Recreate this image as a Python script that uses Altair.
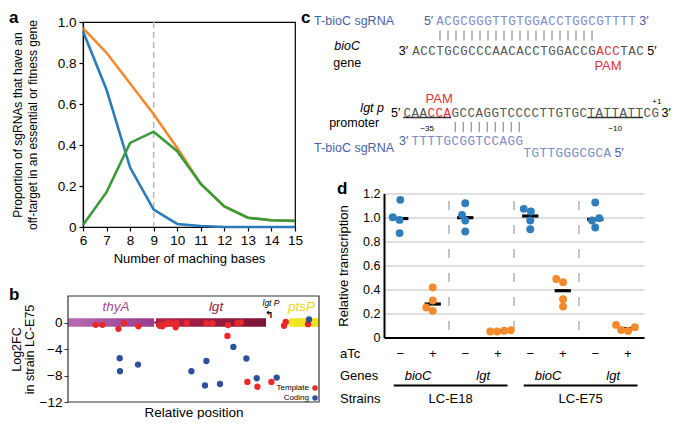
import altair as alt
import pandas as pd
import numpy as np

FONT = "Liberation Sans"
MONO = "Liberation Mono"

panel_letters = ["a", "b", "c", "d"]

# ================= panel a data =================
matching_bases = [6, 7, 8, 9, 10, 11, 12, 13, 14, 15]
series_orange = [0.97, 0.85, 0.70, 0.55, 0.385, 0.21, 0.10, 0.045, 0.033, 0.03]
series_blue = [0.955, 0.67, 0.29, 0.085, 0.015, 0.005, 0.0, 0.0, 0.0, 0.0]
series_green = [0.01, 0.17, 0.41, 0.465, 0.37, 0.21, 0.10, 0.045, 0.033, 0.03]
cutoff_bases = [9]
a_yticks = [0, 0.2, 0.4, 0.6, 0.8, 1.0]

# ================= panel b data =================
template_pos = [27.7, 34.4, 50.4, 56.0, 70.4, 91.7, 94.4, 97.0, 99.4, 102.7, 107.7, 108.4, 118.7,
                138.4, 144.4, 160.0, 169.4, 172.7, 159.4, 179.4, 189.4, 203.4, 216.0, 217.7, 240.0]
template_lfc = [-0.35, -0.35, -0.96, -0.1, -0.58, -0.49, -0.58, -0.25, -0.1, -0.1, -0.72, -0.1, -0.1,
                -0.1, -0.1, -0.39, -0.1, 0.0, -2.02, -8.97, -9.7, -8.97, -0.49, 0.09, -0.25]
coding_pos = [51.7, 52.0, 70.0, 123.4, 138.4, 137.0, 152.0, 165.4, 178.4, 188.7, 208.7, 241.0]
coding_lfc = [-5.4, -7.36, -6.35, -7.36, -5.81, -9.5, -9.28, -3.69, -5.43, -8.41, -8.31, 0.45]
gene_names = ["thyA", "lgt", "ptsP"]
gene_start = [0, 88, 224]
gene_end = [86, 198, 251]
promoter_label = ["lgt P"]
b_domain = [0, 251]
b_yticks = [0, -4, -8, -12]
legend_labels = ["Template", "Coding"]

# ================= panel c data =================
bioc_sgrna = "ACGCGGGTTGTGGACCTGGCGTTTT"
bioc_gene = "ACCTGCGCCCAACACCTGGACCGACCTAC"
lgt_promoter = "CAACCAGCCAGGTCCCCTTGTGCTATTATTCG"
pam_gene = (23, 26)
pam_promoter = (3, 6)
promoter_boxes = [(0, 6, "\u221235"), (23, 30, "\u221210")]
sgrna_label = "T-bioC sgRNA"

# ================= panel d data =================
d_strains = ["LC-E18", "LC-E75"]
d_genes = ["bioC", "lgt", "bioC", "lgt"]
d_atc = ["\u2212", "+", "\u2212", "+", "\u2212", "+", "\u2212", "+"]
d_values = [
    [1.0025, 1.147, 0.98, 0.87],
    [0.417, 0.308, 0.25, 0.222],
    [1.119, 1.022, 0.975, 0.883],
    [0.05, 0.05, 0.056, 0.06],
    [1.072, 1.05, 0.975, 0.9025],
    [0.488, 0.461, 0.319, 0.258],
    [1.125, 0.994, 0.975, 0.917],
    [0.105, 0.063, 0.055, 0.086],
]
d_jitter = [
    [-0.23, 0.0, -0.02, -0.02],
    [0.0, 0.0, -0.2, 0.0],
    [0.0, -0.1, 0.0, 0.0],
    [-0.23, -0.02, 0.2, 0.4],
    [-0.2, 0.02, 0.0, 0.0],
    [-0.2, 0.01, 0.01, 0.01],
    [0.0, 0.12, -0.1, 0.0],
    [-0.36, -0.2, 0.01, 0.22],
]
d_row_labels = ["aTc", "Genes", "Strains"]
d_yticks = [0, 0.2, 0.4, 0.6, 0.8, 1.0, 1.2]


def ax(**kw):
    base = dict(labelFont=FONT, titleFont=FONT, labelColor="black", titleColor="black",
                titleFontWeight="normal", domainColor="black", tickColor="black", labelFlush=False)
    base.update(kw)
    return alt.Axis(**base)


def letter(ch, dx, dy):
    return alt.Chart(pd.DataFrame({"t": [ch]})).mark_text(
        font=FONT, fontWeight="bold", fontSize=17, align="left", baseline="top", color="black"
    ).encode(text="t:N", x=alt.value(dx), y=alt.value(dy))


# ================= panel a =================
A_W, A_H = 212, 205
A_COLORS = {"orange": "#f5892e", "blue": "#2b7bba", "green": "#3a9b3c"}
a_long = pd.DataFrame({
    "n": matching_bases * 3,
    "value": series_orange + series_blue + series_green,
    "series": ["orange"] * len(matching_bases) + ["blue"] * len(matching_bases) + ["green"] * len(matching_bases),
})
xa = alt.X("n:Q", scale=alt.Scale(domain=[6, 15], nice=False, zero=False),
           axis=ax(values=matching_bases, title="Number of maching bases", grid=False, tickSize=4,
                   tickWidth=1.2, domainWidth=1.2, labelFontSize=13.5, titleFontSize=13,
                   labelPadding=2, titlePadding=6))
ya = alt.Y("value:Q", scale=alt.Scale(domain=[0, 1], nice=False, zero=False),
           axis=ax(values=a_yticks, labelExpr="datum.value == 0 ? '0' : format(datum.value, '.1f')",
                   title=["Proportion of sgRNAs that have an", "off-target in an essential or fitness gene"],
                   titleFontSize=12, titleLineHeight=15, grid=False, tickSize=4, tickWidth=1.2,
                   domainWidth=1.2, labelFontSize=13.5, labelPadding=3, titlePadding=18))

a_layers = [
    alt.Chart(pd.DataFrame({"n": cutoff_bases})).mark_rule(
        color="#b8b8b8", strokeDash=[6, 4], strokeWidth=1.5).encode(x=xa)
]
for s in ["orange", "blue", "green"]:
    a_layers.append(
        alt.Chart(a_long).transform_filter(alt.datum.series == s)
        .mark_line(color=A_COLORS[s], strokeWidth=2.6).encode(x=xa, y=ya)
    )
a_layers.append(letter(panel_letters[0], -74, -12))
chart_a = alt.layer(*a_layers).properties(
    width=A_W, height=A_H, view=alt.ViewBackground(stroke="black", strokeWidth=1.2))

# ================= panel b =================
B_SHIFT = 15
B_W, B_H = 236, 106
BAR_HALF = 0.65


def xb(field):
    return alt.X(field, scale=alt.Scale(domain=b_domain, range=[-B_SHIFT, B_W], nice=False, zero=False),
                 axis=ax(title="Relative position", labels=False, ticks=False, domain=False, grid=False,
                         titleFontSize=13.5, titlePadding=3))


def yb(field):
    return alt.Y(field, scale=alt.Scale(domain=[-12, 4], nice=False, zero=False),
                 axis=ax(values=b_yticks, title=["Log2FC", "in strain LC-E75"], titleFontSize=12.5,
                         titleLineHeight=13, grid=False, domain=False, tickSize=4, tickColor="#333",
                         labelFontSize=13.5, labelPadding=2, titlePadding=3, offset=B_SHIFT))


genes_df = pd.DataFrame({"gene": gene_names, "start": gene_start, "end": gene_end})
genes_df["lo"] = -BAR_HALF
genes_df["hi"] = BAR_HALF
genes_df["mid"] = (genes_df["start"] + genes_df["end"]) / 2
GENE_GRAD = {"thyA": ("#b86cb3", "#983b8f"), "lgt": ("#b3234c", "#7a1535"), "ptsP": ("#f3e424", "#f0df1c")}
GENE_TEXT = {"thyA": "#a0479c", "lgt": "#8c1d40", "ptsP": "#ecd820"}
GENE_NUDGE = {"thyA": 5, "lgt": 5, "ptsP": -4}

b_layers = []
for g in gene_names:
    c0, c1 = GENE_GRAD[g]
    b_layers.append(
        alt.Chart(genes_df).transform_filter(alt.datum.gene == g).mark_rect(
            color=alt.Gradient(gradient="linear", x1=0, x2=1, y1=0, y2=0,
                               stops=[alt.GradientStop(color=c0, offset=0),
                                      alt.GradientStop(color=c1, offset=1)])
        ).encode(x=xb("start:Q"), x2="end:Q", y=yb("lo:Q"), y2="hi:Q")
    )
b_layers.append(
    alt.Chart(genes_df).transform_filter(alt.datum.gene == "lgt").transform_calculate(z="0")
    .mark_point(shape="triangle-left", filled=True, size=45, color="#b3234c", opacity=1)
    .encode(x=xb("start:Q"), y=yb("z:Q"))
)
b_layers.append(
    alt.Chart(genes_df).transform_filter(alt.datum.gene == "ptsP").transform_calculate(z="0")
    .mark_circle(size=70, color="#f3e424", opacity=1)
    .encode(x=xb("start:Q"), y=yb("z:Q"))
)
for g in gene_names:
    b_layers.append(
        alt.Chart(genes_df).transform_filter(alt.datum.gene == g)
        .transform_calculate(lx=f"datum.mid + {GENE_NUDGE[g]}", ly="2.3")
        .mark_text(font=FONT, fontStyle="italic", fontSize=13.5, color=GENE_TEXT[g])
        .encode(text="gene:N", x=xb("lx:Q"), y=yb("ly:Q"))
    )
prom_df = pd.DataFrame({"t": promoter_label, "p": [gene_end[1] + 5], "l": [2.9]})
b_layers.append(
    alt.Chart(prom_df).mark_text(font=FONT, fontStyle="italic", fontSize=8.5, color="black")
    .encode(text="t:N", x=xb("p:Q"), y=yb("l:Q"))
)
arrow_df = pd.DataFrame({"t": ["\u21b0"], "p": [gene_end[1] + 3.5], "l": [1.2]})
b_layers.append(
    alt.Chart(arrow_df).mark_text(font="DejaVu Sans", fontSize=10, fontWeight="bold", color="black")
    .encode(text="t:N", x=xb("p:Q"), y=yb("l:Q"))
)
tmpl_df = pd.DataFrame({"p": template_pos, "l": template_lfc})
cod_df = pd.DataFrame({"p": coding_pos, "l": coding_lfc})
B_RED, B_BLUE = "#e8282b", "#2f4f9f"
b_layers.append(alt.Chart(tmpl_df).mark_circle(size=40, color=B_RED, opacity=1)
                .encode(x=xb("p:Q"), y=yb("l:Q")))
b_layers.append(alt.Chart(cod_df).mark_circle(size=40, color=B_BLUE, opacity=1)
                .encode(x=xb("p:Q"), y=yb("l:Q")))
leg_df = pd.DataFrame({"t": legend_labels, "l": [-9.9, -11.4], "c": [B_RED, B_BLUE]})
leg_df["tx"] = 241
leg_df["dx"] = 247
b_layers.append(alt.Chart(leg_df).mark_text(font=FONT, fontSize=8, align="right", color="black")
                .encode(text="t:N", x=xb("tx:Q"), y=yb("l:Q")))
b_layers.append(alt.Chart(leg_df).mark_circle(size=30, opacity=1)
                .encode(x=xb("dx:Q"), y=yb("l:Q"), color=alt.Color("c:N", scale=None)))
frame_df = pd.DataFrame({"x0": [b_domain[0]], "x1": [b_domain[1]], "y0": [-12], "y1": [4]})
b_layers.append(alt.Chart(frame_df).mark_rect(fill="transparent", stroke="#333333", strokeWidth=1.2)
                .encode(x=xb("x0:Q"), x2="x1:Q", y=yb("y0:Q"), y2="y1:Q"))
b_layers.append(letter(panel_letters[1], -59 - B_SHIFT, -9))
chart_b = alt.layer(*b_layers).properties(width=B_W, height=B_H)

# ================= panel c =================
C_W, C_H = 260, 140
CW = 8.0
C_TOP = 15
GRAY, SEQ_BLUE, LAB_BLUE, PAM_RED = "#555555", "#7d8cc6", "#4a5fa8", "#e0303a"
x_c = alt.Scale(domain=[0, C_W / CW], nice=False, zero=False)
y_c = alt.Scale(domain=[C_TOP, C_TOP + C_H], nice=False, zero=False, reverse=True)

GENE_START = 3.5
SG_TOP_START = GENE_START + 3
PROM_START = 2.4
SG_B1_START = PROM_START + 1
Y_SG_TOP, Y_BARS1, Y_GENE = 13.5, 28.5, 44
Y_PROM, Y_BARS2, Y_SG_B1, Y_SG_B2 = 105.5, 120, 134, 145.5
BAR_HALF_LEN = 5

mono_rows = []
pair_rows = []


def add_seq(seq, start, y, color, red=None):
    for i, ch in enumerate(seq):
        col = PAM_RED if (red and red[0] <= i < red[1]) else color
        mono_rows.append({"x": start + i + 0.5, "y": y, "t": ch, "c": col})


def add_pairs(n, start, y):
    for i in range(n):
        pair_rows.append({"x": start + i + 0.5, "y0": y - BAR_HALF_LEN, "y1": y + BAR_HALF_LEN})


sg_rev = bioc_sgrna[::-1]
split = pam_promoter[1] + 9 - 1
add_seq(bioc_sgrna, SG_TOP_START, Y_SG_TOP, SEQ_BLUE)
add_pairs(20, SG_TOP_START, Y_BARS1)
add_seq(bioc_gene, GENE_START, Y_GENE, GRAY, pam_gene)
add_seq(lgt_promoter, PROM_START, Y_PROM, GRAY, pam_promoter)
add_pairs(9, PROM_START + pam_promoter[1], Y_BARS2)
add_seq(sg_rev[:split], SG_B1_START, Y_SG_B1, SEQ_BLUE)
add_seq(sg_rev[split:], SG_B1_START + split, Y_SG_B2, SEQ_BLUE)
mono_df = pd.DataFrame(mono_rows)
pair_df = pd.DataFrame(pair_rows)

right_lab = pd.DataFrame([
    {"x": 1.25, "y": Y_SG_TOP, "t": sgrna_label, "c": LAB_BLUE, "s": 12.5},
    {"x": 1.25, "y": Y_SG_B1 + 6.5, "t": sgrna_label, "c": LAB_BLUE, "s": 12.5},
    {"x": SG_TOP_START - 0.35, "y": Y_SG_TOP, "t": "5\u2032", "c": LAB_BLUE, "s": 12.5},
    {"x": GENE_START - 0.5, "y": Y_GENE, "t": "3\u2032", "c": "black", "s": 12.5},
    {"x": PROM_START - 0.35, "y": Y_PROM, "t": "5\u2032", "c": "black", "s": 12.5},
    {"x": SG_B1_START - 0.35, "y": Y_SG_B1, "t": "3\u2032", "c": LAB_BLUE, "s": 12.5},
    {"x": -0.6, "y": Y_PROM + 10.5, "t": "promoter", "c": "black", "s": 12.5},
])
left_lab = pd.DataFrame([
    {"x": SG_TOP_START + len(bioc_sgrna) + 0.4, "y": Y_SG_TOP, "t": "3\u2032", "c": LAB_BLUE, "s": 12.5},
    {"x": GENE_START + len(bioc_gene) + 0.4, "y": Y_GENE, "t": "5\u2032", "c": "black", "s": 12.5},
    {"x": PROM_START + len(lgt_promoter) + 0.3, "y": Y_PROM, "t": "3\u2032", "c": "black", "s": 12.5},
    {"x": SG_B1_START + len(sg_rev) + 0.4, "y": Y_SG_B2, "t": "5\u2032", "c": LAB_BLUE, "s": 12.5},
])
center_lab = pd.DataFrame([
    {"x": GENE_START + (pam_gene[0] + pam_gene[1]) / 2, "y": Y_GENE + 15, "t": "PAM", "c": PAM_RED, "s": 13},
    {"x": PROM_START + (pam_promoter[0] + pam_promoter[1]) / 2, "y": Y_PROM - 14, "t": "PAM", "c": PAM_RED, "s": 13},
    {"x": -4.6, "y": Y_GENE + 11.5, "t": "gene", "c": "black", "s": 12.5},
    {"x": PROM_START + len(lgt_promoter) - 0.3, "y": Y_PROM - 10.5, "t": "+1", "c": "black", "s": 8},
] + [
    {"x": PROM_START + (b[0] + b[1]) / 2, "y": Y_PROM + 16, "t": b[2], "c": "black", "s": 8}
    for b in promoter_boxes
])
italic_center = pd.DataFrame([{"x": -4.6, "y": Y_GENE - 5, "t": "bioC"}])
italic_right = pd.DataFrame([{"x": 0.0, "y": Y_PROM - 5, "t": "lgt p"}])
underline_df = pd.DataFrame([
    {"x": PROM_START + b[0], "x2": PROM_START + b[1], "y": Y_PROM + 5} for b in promoter_boxes
])


def xc(f):
    return alt.X(f, scale=x_c, axis=None)


def yc(f):
    return alt.Y(f, scale=y_c, axis=None)


c_layers = [
    alt.Chart(pair_df).mark_rule(color="#777777", strokeWidth=1)
    .encode(x=xc("x:Q"), y=yc("y0:Q"), y2="y1:Q"),
    alt.Chart(mono_df).mark_text(font=MONO, fontSize=12.5, align="center", baseline="middle")
    .encode(x=xc("x:Q"), y=yc("y:Q"), text="t:N", color=alt.Color("c:N", scale=None)),
    alt.Chart(right_lab).mark_text(font=FONT, align="right", baseline="middle")
    .encode(x=xc("x:Q"), y=yc("y:Q"), text="t:N", color=alt.Color("c:N", scale=None),
            size=alt.Size("s:Q", scale=None)),
    alt.Chart(left_lab).mark_text(font=FONT, align="left", baseline="middle")
    .encode(x=xc("x:Q"), y=yc("y:Q"), text="t:N", color=alt.Color("c:N", scale=None),
            size=alt.Size("s:Q", scale=None)),
    alt.Chart(center_lab).mark_text(font=FONT, align="center", baseline="middle")
    .encode(x=xc("x:Q"), y=yc("y:Q"), text="t:N", color=alt.Color("c:N", scale=None),
            size=alt.Size("s:Q", scale=None)),
    alt.Chart(italic_center).mark_text(font=FONT, fontStyle="italic", fontSize=12.5, align="center",
                                       baseline="middle", color="black")
    .encode(x=xc("x:Q"), y=yc("y:Q"), text="t:N"),
    alt.Chart(italic_right).mark_text(font=FONT, fontStyle="italic", fontSize=12.5, align="right",
                                      baseline="middle", color="black")
    .encode(x=xc("x:Q"), y=yc("y:Q"), text="t:N"),
    alt.Chart(underline_df).mark_rule(color="#333333", strokeWidth=1.5)
    .encode(x=xc("x:Q"), x2="x2:Q", y=yc("y:Q")),
    letter(panel_letters[2], -83, -12),
]
chart_c = alt.layer(*c_layers).properties(width=C_W, height=C_H)

# ================= panel d =================
D_W, D_H = 260, 144
NCOL = len(d_atc)
D_COLORS = {"\u2212": "#2f7dbb", "+": "#f58a2c"}


def xd(f):
    return alt.X(f, scale=alt.Scale(domain=[0, NCOL], nice=False, zero=False),
                 axis=ax(title=None, labels=False, ticks=False, grid=False, domainWidth=2))


def yd(f):
    return alt.Y(f, scale=alt.Scale(domain=[0, 1.2], nice=False, zero=False),
                 axis=ax(values=d_yticks, labelExpr="datum.value == 0 ? '0' : format(datum.value, '.1f')",
                         title="Relative transcription", titleFontSize=13, grid=True, gridColor="#d4d4d4",
                         gridWidth=1.5, ticks=False, domainWidth=2, labelFontSize=12.5, labelPadding=4,
                         titlePadding=12))


pts = []
meds = []
for ci in range(NCOL):
    for v, j in zip(d_values[ci], d_jitter[ci]):
        pts.append({"x": ci + 0.5 + j, "v": v, "c": D_COLORS[d_atc[ci]]})
    meds.append({"x1": ci + 0.25, "x2": ci + 0.75, "m": float(np.median(d_values[ci]))})
pts_df = pd.DataFrame(pts)
med_df = pd.DataFrame(meds)
sep_df = pd.DataFrame({"s": list(range(2, NCOL, 2))})
sep_df["top"] = 1.2
sep_df["bot"] = 0.0
atc_df = pd.DataFrame({"t": d_atc, "x": [i + 0.5 for i in range(NCOL)]})
gene_df = pd.DataFrame({"t": d_genes, "x": [2 * i + 1.05 for i in range(len(d_genes))]})
strain_df = pd.DataFrame({"t": d_strains, "x": [4 * i + 2.05 for i in range(len(d_strains))]})
strain_df["x1"] = strain_df["x"] - 1.75
strain_df["x2"] = strain_df["x"] + 1.75
rowlab_df = pd.DataFrame({"t": d_row_labels, "py": [D_H + 16, D_H + 38, D_H + 61]})

d_layers = [
    alt.Chart(sep_df).mark_rule(color="#c4c4c4", strokeWidth=2, strokeDash=[9, 15], strokeDashOffset=16.5)
    .encode(x=xd("s:Q"), y=yd("top:Q"), y2="bot:Q"),
    alt.Chart(med_df).mark_rule(color="black", strokeWidth=3.2)
    .encode(x=xd("x1:Q"), x2="x2:Q", y=yd("m:Q")),
    alt.Chart(pts_df).mark_circle(size=62, opacity=1)
    .encode(x=xd("x:Q"), y=yd("v:Q"), color=alt.Color("c:N", scale=None)),
    alt.Chart(atc_df).mark_text(font=FONT, fontSize=13, color="black", baseline="middle")
    .encode(x=xd("x:Q"), y=alt.value(D_H + 16), text="t:N"),
    alt.Chart(gene_df).mark_text(font=FONT, fontSize=13, fontStyle="italic", color="black", baseline="middle")
    .encode(x=xd("x:Q"), y=alt.value(D_H + 38), text="t:N"),
    alt.Chart(strain_df).mark_rule(color="black", strokeWidth=2)
    .encode(x=xd("x1:Q"), x2="x2:Q", y=alt.value(D_H + 48)),
    alt.Chart(strain_df).mark_text(font=FONT, fontSize=13, color="black", baseline="middle")
    .encode(x=xd("x:Q"), y=alt.value(D_H + 61), text="t:N"),
    alt.Chart(rowlab_df).mark_text(font=FONT, fontSize=13, color="black", align="left", baseline="middle")
    .encode(x=alt.value(-44), y=alt.Y("py:Q", scale=None), text="t:N"),
    letter(panel_letters[3], -47, -13),
]
chart_d = alt.layer(*d_layers).properties(width=D_W, height=D_H)

# ================= assemble =================
left = alt.vconcat(chart_a, chart_b, spacing=18)
right = alt.vconcat(chart_c, chart_d, spacing=15.5)
chart = (
    alt.hconcat(left, right, spacing=-35)
    .properties(padding=0)
    .configure(font=FONT)
    .configure_view(stroke="transparent")
)
chart.save("out.html", embed_options={"renderer": "svg", "actions": False})
